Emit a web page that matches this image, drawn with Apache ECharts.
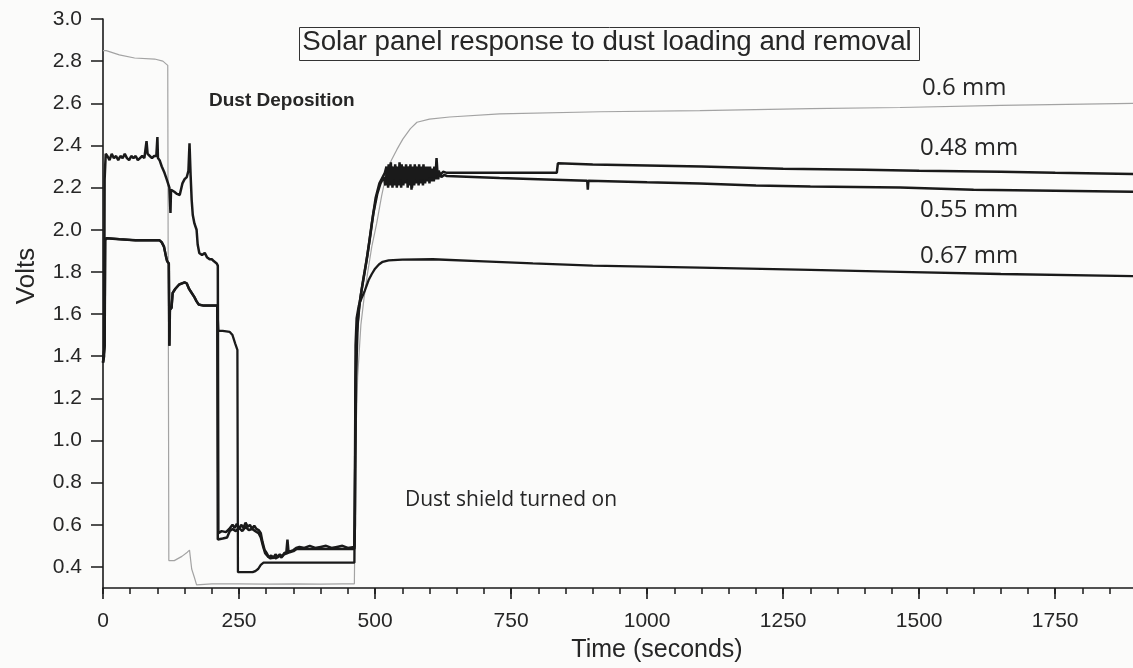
<!DOCTYPE html>
<html>
<head>
<meta charset="utf-8">
<script src="https://cdn.jsdelivr.net/npm/echarts@6/dist/echarts.min.js"></script>
<style>
html,body{margin:0;padding:0;background:#fbfbfa;}
#chart{width:1133px;height:668px;}
</style>
</head>
<body>
<div id="chart"></div>
<script>
// ---- Data (time in seconds, voltage in volts) ----
const xMajorTicks = [0, 250, 500, 750, 1000, 1250, 1500, 1750];
const xMinorTicks = [0,50,100,150,200,250,300,350,400,450,500,550,600,650,700,750,800,850,900,950,1000,1050,1100,1150,1200,1250,1300,1350,1400,1450,1500,1550,1600,1650,1700,1750,1800,1850];
const yTicks = [0.4, 0.6, 0.8, 1.0, 1.2, 1.4, 1.6, 1.8, 2.0, 2.2, 2.4, 2.6, 2.8, 3.0];

// 0.6 mm (grey trace)
const t06 = [0, 6, 30, 58, 95, 110, 119, 120, 121, 125, 131, 145, 155, 159, 163, 168, 172, 200, 250, 300, 350, 400, 440, 462,
  463, 464, 468, 474, 480, 486, 494, 503, 512, 521, 530, 540, 551, 565, 577, 600, 637, 729, 914, 1097, 1300, 1465, 1650, 1893];
const v06 = [2.85, 2.85, 2.83, 2.815, 2.81, 2.80, 2.78, 1.60, 0.43, 0.43, 0.43, 0.45, 0.47, 0.48, 0.39, 0.35, 0.315, 0.32, 0.32, 0.318, 0.32, 0.318, 0.32, 0.32,
  0.6, 0.95, 1.3, 1.55, 1.68, 1.79, 1.92, 2.03, 2.16, 2.27, 2.33, 2.38, 2.43, 2.48, 2.51, 2.525, 2.535, 2.55, 2.56, 2.565, 2.575, 2.58, 2.59, 2.60];

// 0.48 mm (black trace, starts at ~2.35 V)
const t048 = [0, 2, 3, 5, 8, 12, 16, 20, 24, 28, 32, 36, 40, 44, 48, 52, 56, 60, 64, 68, 72, 76, 78, 80, 82, 86, 90, 94, 98, 100, 101, 104, 108, 113, 117, 122, 124, 125, 128, 131, 136, 141, 146, 150, 154, 157, 159, 161, 163, 165, 168, 172, 174, 177, 182, 187, 191, 196, 200, 204, 209, 211,
  212, 218, 226, 232, 238, 242, 246, 250, 254, 258, 262, 266, 270, 274, 278, 282, 286, 290, 293, 297, 301, 305, 309, 313, 317, 321, 325, 329, 333, 337, 339, 341, 345, 350, 355, 361, 370, 380, 390, 400, 410, 420, 430, 440, 450, 462,
  463, 464, 466, 470, 475, 481, 486, 494, 501, 508, 514, 518,
  521, 523, 525, 527, 529, 531, 533, 535, 537, 539, 541, 543, 545, 547, 549, 551, 553, 555, 557, 559, 561, 563, 565, 567, 569, 571, 573, 575, 577, 579, 581, 583, 585, 587, 589, 591, 593, 595, 597, 599, 601, 603, 605, 607, 609, 611, 613, 615, 617, 620, 625, 632,
  834, 836, 900, 1000, 1100, 1250, 1400, 1500, 1650, 1750, 1893];
const v048 = [1.37, 1.40, 2.24, 2.36, 2.35, 2.33, 2.36, 2.34, 2.35, 2.33, 2.35, 2.34, 2.36, 2.34, 2.33, 2.35, 2.34, 2.35, 2.33, 2.34, 2.35, 2.34, 2.38, 2.42, 2.36, 2.35, 2.34, 2.35, 2.35, 2.44, 2.34, 2.33, 2.30, 2.27, 2.24, 2.20, 2.08, 2.19, 2.19, 2.18, 2.17, 2.165, 2.22, 2.24, 2.25, 2.28, 2.41, 2.26, 2.14, 2.07, 2.03, 2.00, 1.93, 1.89, 1.88, 1.89, 1.87, 1.86, 1.86, 1.85, 1.84, 1.83,
  0.56, 0.57, 0.565, 0.58, 0.60, 0.585, 0.605, 0.58, 0.60, 0.585, 0.61, 0.59, 0.60, 0.58, 0.595, 0.58, 0.575, 0.56, 0.52, 0.48, 0.465, 0.445, 0.455, 0.44, 0.46, 0.445, 0.46, 0.45, 0.465, 0.47, 0.53, 0.47, 0.475, 0.48, 0.49, 0.495, 0.49, 0.50, 0.49, 0.495, 0.50, 0.49, 0.495, 0.50, 0.49, 0.495,
  0.60, 1.20, 1.50, 1.62, 1.71, 1.80, 1.88, 2.03, 2.15, 2.22, 2.25, 2.27,
  2.30, 2.22, 2.31, 2.23, 2.32, 2.22, 2.30, 2.24, 2.31, 2.22, 2.30, 2.23, 2.32, 2.24, 2.31, 2.22, 2.30, 2.23, 2.31, 2.24, 2.30, 2.22, 2.31, 2.19, 2.30, 2.23, 2.31, 2.24, 2.30, 2.23, 2.31, 2.24, 2.30, 2.24, 2.31, 2.23, 2.30, 2.24, 2.30, 2.25, 2.30, 2.25, 2.29, 2.25, 2.30, 2.25, 2.34, 2.26, 2.28, 2.26, 2.275, 2.27,
  2.27, 2.315, 2.31, 2.305, 2.30, 2.29, 2.285, 2.28, 2.275, 2.27, 2.265];

// 0.55 mm (black trace, starts at ~1.95 V)
const t055 = [0, 3, 4, 6, 30, 60, 90, 104, 108, 112, 116, 118, 121, 122, 123, 126, 128, 133, 140, 150, 154, 158, 163, 168, 172, 176, 185, 200, 210,
  211, 220, 228, 233, 238, 244, 250, 256, 262, 268, 274, 280, 286, 290, 294, 298, 303, 308, 313, 318, 323, 328, 333, 338, 343, 350, 356, 361, 400, 462,
  463, 465, 468, 472, 478, 484, 490, 497, 504, 510, 516,
  519, 522, 524, 526, 528, 530, 532, 534, 536, 538, 540, 542, 544, 546, 548, 550, 552, 554, 556, 558, 560, 562, 564, 566, 568, 570, 572, 574, 576, 578, 580, 582, 584, 586, 588, 590, 592, 594, 596, 598, 600, 602, 604, 606, 608, 610, 612, 614, 616, 618, 622, 627, 632,
  680, 729, 800, 890, 891, 892, 1000, 1097, 1200, 1300, 1465, 1600, 1750, 1893];
const v055 = [1.37, 1.45, 1.95, 1.96, 1.955, 1.95, 1.95, 1.95, 1.94, 1.92, 1.87, 1.85, 1.84, 1.45, 1.62, 1.63, 1.70, 1.72, 1.74, 1.75, 1.745, 1.72, 1.70, 1.68, 1.66, 1.645, 1.64, 1.64, 1.64,
  0.53, 0.535, 0.54, 0.57, 0.58, 0.57, 0.585, 0.57, 0.59, 0.575, 0.58, 0.57, 0.56, 0.54, 0.50, 0.465, 0.45, 0.44, 0.45, 0.44, 0.455, 0.445, 0.46, 0.465, 0.47, 0.475, 0.485, 0.485, 0.485, 0.485,
  0.70, 1.30, 1.55, 1.66, 1.76, 1.85, 1.95, 2.08, 2.17, 2.22, 2.25,
  2.21, 2.29, 2.20, 2.28, 2.21, 2.30, 2.20, 2.29, 2.21, 2.30, 2.20, 2.28, 2.21, 2.29, 2.20, 2.30, 2.21, 2.28, 2.22, 2.29, 2.20, 2.30, 2.21, 2.29, 2.20, 2.28, 2.21, 2.30, 2.22, 2.29, 2.21, 2.28, 2.22, 2.29, 2.21, 2.28, 2.22, 2.29, 2.23, 2.28, 2.22, 2.28, 2.23, 2.27, 2.23, 2.28, 2.24, 2.27, 2.24, 2.27, 2.25, 2.26, 2.255,
  2.25, 2.245, 2.24, 2.232, 2.19, 2.232, 2.225, 2.22, 2.21, 2.205, 2.20, 2.19, 2.185, 2.18];

// 0.67 mm (black trace; overlaps the 0.55 mm trace early on)
const t067 = [0, 3, 4, 6, 30, 60, 90, 104, 108, 112, 116, 118, 121, 122, 123, 126, 128, 133, 140, 150, 154, 158, 163, 168, 172, 176, 185, 200, 210,
  212, 220, 233, 238, 243, 247, 248, 260, 275, 280, 285, 290, 295, 350, 400, 462,
  463, 464, 466, 470, 476, 481, 488, 494, 500, 507, 514, 525, 550, 606, 700, 790, 900, 1097, 1300, 1465, 1650, 1893];
const v067 = [1.37, 1.45, 1.95, 1.96, 1.955, 1.95, 1.95, 1.95, 1.94, 1.92, 1.87, 1.85, 1.84, 1.45, 1.62, 1.63, 1.70, 1.72, 1.74, 1.75, 1.745, 1.72, 1.70, 1.68, 1.66, 1.645, 1.64, 1.64, 1.64,
  1.52, 1.52, 1.515, 1.50, 1.46, 1.43, 0.375, 0.375, 0.375, 0.38, 0.39, 0.41, 0.42, 0.42, 0.42, 0.42,
  0.90, 1.45, 1.58, 1.64, 1.68, 1.71, 1.76, 1.79, 1.815, 1.835, 1.848, 1.855, 1.858, 1.86, 1.85, 1.84, 1.83, 1.82, 1.81, 1.80, 1.79, 1.78];

const seriesNames = ['0.6 mm', '0.48 mm', '0.55 mm', '0.67 mm'];

function zip(t, v) { return t.map((x, i) => [x, v[i]]); }

const chart = echarts.init(document.getElementById('chart'), null, { renderer: 'canvas' });

const ink = '#1a1a1a';
const textInk = '#262626';
const tickFont = "'Liberation Sans', Arial, sans-serif";

const lineSeries = (name, t, v, color, width) => ({
  name: name,
  type: 'line',
  xAxisIndex: 0,
  yAxisIndex: 0,
  data: zip(t, v),
  showSymbol: false,
  symbol: 'none',
  lineStyle: { color: color, width: width },
  itemStyle: { color: color },
  emphasis: { disabled: true },
  animation: false,
  z: 3
});

const option = {
  backgroundColor: '#fbfbfa',
  animation: false,
  grid: { left: 103, right: 0, top: 19, bottom: 80, containLabel: false },
  xAxis: [
    {
      type: 'value', min: 0, max: 1893, position: 'bottom',
      axisLine: { show: true, onZero: false, lineStyle: { color: ink, width: 1.6 } },
      axisTick: { show: true, customValues: xMinorTicks, length: 6, lineStyle: { color: ink, width: 1.5 } },
      axisLabel: { show: false },
      splitLine: { show: false }
    },
    {
      type: 'value', min: 0, max: 1893, position: 'bottom',
      axisLine: { show: false, onZero: false },
      axisTick: { show: true, customValues: xMajorTicks, length: 11, lineStyle: { color: ink, width: 1.6 } },
      axisLabel: { show: true, customValues: xMajorTicks, margin: 23, fontSize: 21, fontFamily: tickFont, color: textInk,
        formatter: v => String(Math.round(v)) },
      splitLine: { show: false }
    }
  ],
  yAxis: {
    type: 'value', min: 0.3, max: 3.0,
    axisLine: { show: true, onZero: false, lineStyle: { color: ink, width: 1.6 } },
    axisTick: { show: true, customValues: yTicks, length: 12, lineStyle: { color: ink, width: 1.5 } },
    axisLabel: { show: true, customValues: yTicks, margin: 21, fontSize: 21, fontFamily: tickFont, color: textInk,
      formatter: v => Number(v).toFixed(1) },
    splitLine: { show: false }
  },
  series: [
    lineSeries(seriesNames[0], t06, v06, '#a3a3a3', 1.2),
    lineSeries(seriesNames[2], t055, v055, ink, 2.5),
    lineSeries(seriesNames[3], t067, v067, ink, 2.3),
    lineSeries(seriesNames[1], t048, v048, ink, 2.5)
  ],
  graphic: [
    { type: 'rect', left: 297, top: 25, shape: { width: 620, height: 33 },
      style: { fill: 'none', stroke: '#333', lineWidth: 1 }, z: 10 },
    { type: 'text', x: 607, y: 42, z: 11,
      style: { text: 'Solar panel response to dust loading and removal', fill: textInk,
        font: "27.7px 'Liberation Sans', Arial, sans-serif", textAlign: 'center', textVerticalAlign: 'middle' } },
    { type: 'text', x: 209, y: 101, z: 11,
      style: { text: 'Dust Deposition', fill: textInk,
        font: "bold 19px 'Liberation Sans', Arial, sans-serif", textAlign: 'left', textVerticalAlign: 'middle' } },
    { type: 'text', x: 405, y: 500, z: 11,
      style: { text: 'Dust shield turned on', fill: textInk,
        font: "21px 'Open Sans', sans-serif", textAlign: 'left', textVerticalAlign: 'middle' } },
    { type: 'text', x: 922, y: 88, z: 11,
      style: { text: seriesNames[0], fill: textInk, font: "24px 'Open Sans', sans-serif", textAlign: 'left', textVerticalAlign: 'middle' } },
    { type: 'text', x: 920, y: 148, z: 11,
      style: { text: seriesNames[1], fill: textInk, font: "24px 'Open Sans', sans-serif", textAlign: 'left', textVerticalAlign: 'middle' } },
    { type: 'text', x: 920, y: 210, z: 11,
      style: { text: seriesNames[2], fill: textInk, font: "24px 'Open Sans', sans-serif", textAlign: 'left', textVerticalAlign: 'middle' } },
    { type: 'text', x: 920, y: 256, z: 11,
      style: { text: seriesNames[3], fill: textInk, font: "24px 'Open Sans', sans-serif", textAlign: 'left', textVerticalAlign: 'middle' } },
    { type: 'text', x: 657, y: 650, z: 11,
      style: { text: 'Time (seconds)', fill: textInk, font: "25px 'Liberation Sans', Arial, sans-serif", textAlign: 'center', textVerticalAlign: 'middle' } },
    { type: 'text', x: 27, y: 276, rotation: Math.PI / 2, z: 11,
      style: { text: 'Volts', fill: textInk, font: "26px 'Liberation Sans', Arial, sans-serif", textAlign: 'center', textVerticalAlign: 'middle' } }
  ]
};

chart.setOption(option);
</script>
</body>
</html>
